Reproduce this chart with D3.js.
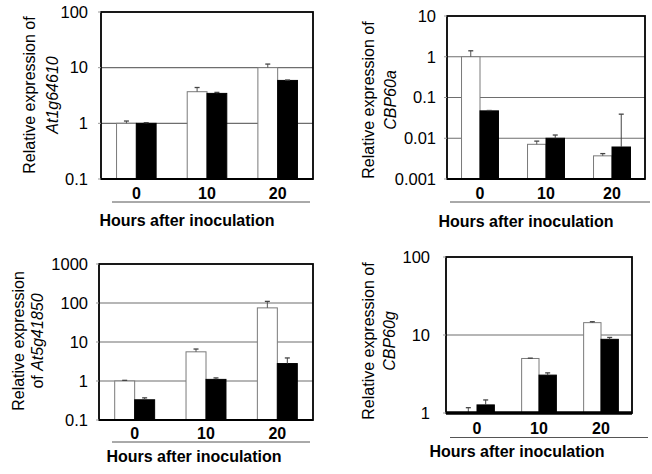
<!DOCTYPE html>
<html><head><meta charset="utf-8">
<script src="https://cdn.jsdelivr.net/npm/d3@7"></script>
<style>body{margin:0;background:#fff}svg{display:block}text{font-family:"Liberation Sans",Arial,sans-serif;fill:#000}</style>
</head><body>
<script>
const categories = ["0", "10", "20"];
const series = ["white", "black"];
// Panel A: At1g64610
const a_white = [1.0, 3.7, 10.0];
const a_white_err = [1.1, 4.4, 11.6];
const a_black = [1.0, 3.45, 5.9];
const a_black_err = [1.03, 3.6, 6.0];
const a_ticks = [0.1, 1, 10, 100];
// Panel B: CBP60a
const b_white = [1.0, 0.0071, 0.0037];
const b_white_err = [1.4, 0.0085, 0.0042];
const b_black = [0.047, 0.010, 0.0061];
const b_black_err = [0.048, 0.012, 0.039];
const b_ticks = [0.001, 0.01, 0.1, 1, 10];
// Panel C: At5g41850
const c_white = [1.0, 5.6, 75];
const c_white_err = [1.04, 6.6, 110];
const c_black = [0.33, 1.1, 2.8];
const c_black_err = [0.37, 1.2, 3.9];
const c_ticks = [0.1, 1, 10, 100, 1000];
// Panel D: CBP60g
const d_white = [1.0, 5.0, 14.4];
const d_white_err = [1.17, 5.05, 14.8];
const d_black = [1.27, 3.06, 8.8];
const d_black_err = [1.47, 3.27, 9.3];
const d_ticks = [1, 10, 100];

const xTitle = "Hours after inoculation";

const svg = d3.select("body").append("svg").attr("width", 652).attr("height", 474);

const panels = [
  {vals:[a_white,a_black], errs:[a_white_err,a_black_err], ticks:a_ticks,
   box:{l:101,r:313,t:12,b:179}, tickX:88,
   title:[{x:29,parts:[["Relative expression of",false]]},{x:52,parts:[["At1g64610",true]]}], titleY:95,
   catY:193, line:{y:202,x1:112,x2:310}, xt:{x:187,y:220}, baseW:1.5},
  {vals:[b_white,b_black], errs:[b_white_err,b_black_err], ticks:b_ticks,
   box:{l:447,r:645,t:16,b:179}, tickX:436,
   title:[{x:368,parts:[["Relative expression of",false]]},{x:390,parts:[["CBP60a",true]]}], titleY:100,
   catY:193, line:{y:202,x1:450,x2:650}, xt:{x:526,y:221}, baseW:1.5},
  {vals:[c_white,c_black], errs:[c_white_err,c_black_err], ticks:c_ticks,
   box:{l:99,r:313,t:264,b:420}, tickX:88,
   title:[{x:18,parts:[["Relative expression",false]]},{x:37,parts:[["of ",false],["At5g41850",true]]}], titleY:341,
   catY:433, line:{y:442,x1:112,x2:310}, xt:{x:194,y:456}, baseW:1.5},
  {vals:[d_white,d_black], errs:[d_white_err,d_black_err], ticks:d_ticks,
   box:{l:446,r:632,t:257,b:413}, tickX:430,
   title:[{x:368,parts:[["Relative expression of",false]]},{x:389,parts:[["CBP60g",true]]}], titleY:341,
   catY:428, line:{y:437.5,x1:450,x2:648}, xt:{x:517,y:451}, baseW:3}
];

panels.forEach(p => {
  const g = svg.append("g");
  const B = p.box;
  const y = d3.scaleLog().domain([p.ticks[0], p.ticks[p.ticks.length-1]]).range([B.b, B.t]);
  const x = d3.scaleBand().domain(categories).range([B.l, B.r]).paddingInner(0).paddingOuter(0);
  const bw = x.bandwidth()*0.28;
  const xs = d3.scaleBand().domain(series).range([-bw, bw]);

  // gridlines
  g.selectAll(".grid").data(p.ticks.slice(1,-1)).join("line")
    .attr("x1", B.l).attr("x2", B.r).attr("y1", d=>y(d)).attr("y2", d=>y(d))
    .attr("stroke", "#6e6e6e").attr("stroke-width", 1.2);

  // bars
  series.forEach((s, si) => {
    const vals = p.vals[si], errs = p.errs[si];
    categories.forEach((c, ci) => {
      const cx = x(c) + x.bandwidth()/2;
      const x0 = cx + xs(s);
      const v = vals[ci];
      g.append("rect").attr("x", x0).attr("width", xs.bandwidth())
        .attr("y", y(v)).attr("height", Math.max(0, B.b - y(v)))
        .attr("fill", s === "white" ? "#fff" : "#000")
        .attr("stroke", s === "white" ? "#7a7a7a" : "#000").attr("stroke-width", 1);
      const ex = x0 + xs.bandwidth()/2;
      const e = errs[ci];
      g.append("line").attr("x1", ex).attr("x2", ex).attr("y1", y(v)).attr("y2", y(e))
        .attr("stroke", s === "white" ? "#555" : "#444").attr("stroke-width", 1);
      g.append("line").attr("x1", ex-2.5).attr("x2", ex+2.5).attr("y1", y(e)).attr("y2", y(e))
        .attr("stroke", "#444").attr("stroke-width", 1.3);
    });
  });

  // frame
  g.append("rect").attr("x", B.l).attr("y", B.t).attr("width", B.r-B.l).attr("height", B.b-B.t)
    .attr("fill", "none").attr("stroke", "#000").attr("stroke-width", 1.8);
  g.append("line").attr("x1", B.l).attr("x2", B.r).attr("y1", B.b).attr("y2", B.b)
    .attr("stroke", "#000").attr("stroke-width", p.baseW + 0.5);

  // y tick labels
  const fmt = d => d >= 1 ? String(d) : String(+d.toPrecision(1));
  g.selectAll(".yt").data(p.ticks).join("text")
    .attr("x", p.tickX).attr("y", d=>y(d)).attr("dy", "0.35em")
    .attr("text-anchor", "end").attr("font-size", 16.5).text(fmt);
  g.selectAll(".ytm").data(p.ticks).join("line")
    .attr("x1", B.l-3).attr("x2", B.l).attr("y1", d=>y(d)).attr("y2", d=>y(d))
    .attr("stroke", "#999").attr("stroke-width", 1);

  // x category labels
  g.selectAll(".xc").data(categories).join("text")
    .attr("x", d => x(d) + x.bandwidth()/2).attr("y", p.catY).attr("dy", "0.35em")
    .attr("text-anchor", "middle").attr("font-size", 16).attr("font-weight", "bold").text(d=>d);

  // underline
  g.append("line").attr("x1", p.line.x1).attr("x2", p.line.x2).attr("y1", p.line.y).attr("y2", p.line.y)
    .attr("stroke", "#555").attr("stroke-width", 1);

  // x title
  g.append("text").attr("x", p.xt.x).attr("y", p.xt.y).attr("dy", "0.35em")
    .attr("text-anchor", "middle").attr("font-size", 16).attr("font-weight", "bold").text(xTitle);

  // y title
  p.title.forEach(t => {
    const tx = g.append("text").attr("transform", `translate(${t.x},${p.titleY}) rotate(-90)`)
      .attr("text-anchor", "middle").attr("dy", "0.35em").attr("font-size", 16);
    t.parts.forEach(pt => {
      tx.append("tspan").attr("font-style", pt[1] ? "italic" : "normal").text(pt[0]);
    });
  });
});
</script>
</body></html>
